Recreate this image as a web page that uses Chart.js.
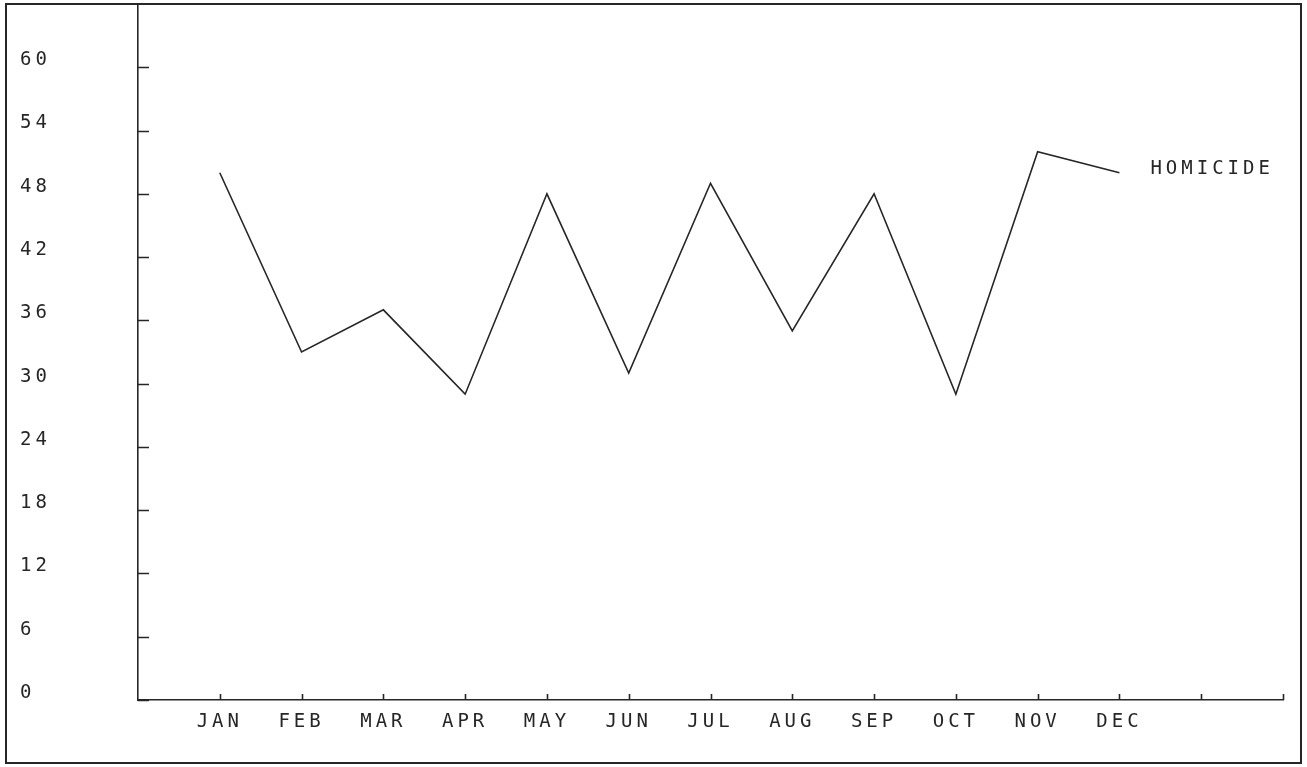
<!DOCTYPE html>
<html>
<head>
<meta charset="utf-8">
<title>Homicide by month</title>
<script src="https://cdn.jsdelivr.net/npm/chart.js@4.4.1/dist/chart.umd.min.js"></script>
<style>
    html, body {
        margin: 0;
        padding: 0;
        background: #ffffff;
    }

    #chartBox {
        position: relative;
        width: 1307px;
        height: 767px;
    }
</style>
</head>
<body>
<div id="chartBox">
    <canvas id="homicideChart"></canvas>
</div>
<script>
"use strict";

const monthLabels = [
    "JAN", "FEB", "MAR", "APR", "MAY", "JUN",
    "JUL", "AUG", "SEP", "OCT", "NOV", "DEC"
];

const homicideCounts = [
    50, 33, 37, 29, 48, 31,
    49, 35, 48, 29, 52, 50
];

const yTickValues = [
    0, 6, 12, 18, 24, 30, 36, 42, 48, 54, 60
];

const seriesName = "HOMICIDE";

const INK = "#262626";
const PLOT_FONT = "'DejaVu Sans Mono', monospace";
const FONT_SIZE = 19;

const plotterMarks = {

    id: "plotterMarks",

    beforeDraw(chart) {

        const ctx = chart.ctx;

        // plotter lettering is spaced wide
        ctx.letterSpacing = "4px";

        ctx.save();
        ctx.strokeStyle = INK;
        ctx.lineWidth = 2;
        ctx.strokeRect(6, 4, 1295, 759);
        ctx.restore();
    },

    afterDraw(chart) {

        const ctx = chart.ctx;
        const xScale = chart.scales.x;
        const yScale = chart.scales.y;
        const area = chart.chartArea;

        ctx.save();
        ctx.strokeStyle = INK;
        ctx.lineWidth = 1.6;
        ctx.beginPath();

        // y ticks point into the plot
        yTickValues.forEach(value => {

            const py = Math.round(yScale.getPixelForValue(value)) + 0.5;

            ctx.moveTo(area.left, py);
            ctx.lineTo(area.left + 11, py);
        });

        // x ticks point up from the axis
        for (let i = 1; i <= xScale.max; i++) {

            const px = Math.round(xScale.getPixelForValue(i)) + 0.5;

            ctx.moveTo(px, area.bottom);
            ctx.lineTo(px, area.bottom - 6);
        }

        ctx.stroke();

        // series name next to the last point
        const meta = chart.getDatasetMeta(0);
        const last = meta.data[meta.data.length - 1];

        ctx.fillStyle = INK;
        ctx.font = FONT_SIZE + "px " + PLOT_FONT;
        ctx.textAlign = "left";
        ctx.textBaseline = "middle";
        ctx.fillText(seriesName, last.x + 31, last.y - 4);
        ctx.restore();
    }
};

const ChartController = {

    initialize() {

        if (typeof Chart === "undefined") {

            console.error("Chart.js not loaded.");

            return;
        }

        Chart.defaults.font.family = PLOT_FONT;
        Chart.defaults.color = INK;

        this.renderChart();
    },

    renderChart() {

        const canvas = document.getElementById("homicideChart");

        const points = homicideCounts.map(
            (value, index) => ({ x: index + 1, y: value })
        );

        new Chart(canvas, {

            type: "line",

            data: {

                datasets: [
                    {
                        label: seriesName,
                        data: points,
                        borderColor: INK,
                        borderWidth: 1.6,
                        pointRadius: 0,
                        tension: 0,
                        fill: false
                    }
                ]
            },

            options: {

                responsive: true,
                maintainAspectRatio: false,
                animation: false,

                layout: {
                    padding: {
                        left: 20,
                        right: 24,
                        top: 4,
                        bottom: 0
                    }
                },

                plugins: {
                    legend: { display: false },
                    tooltip: { enabled: false }
                },

                scales: {

                    x: {
                        type: "linear",
                        min: 0,
                        max: 14,
                        afterFit(scale) {
                            scale.height = 67;
                            scale.paddingLeft = 0;
                            scale.paddingRight = 0;
                        },
                        afterBuildTicks(scale) {
                            scale.ticks = [];
                            for (let i = 0; i <= 14; i++) {
                                scale.ticks.push({ value: i });
                            }
                        },
                        grid: {
                            display: true,
                            drawOnChartArea: false,
                            drawTicks: false
                        },
                        border: {
                            display: true,
                            color: INK,
                            width: 1.6
                        },
                        ticks: {
                            autoSkip: false,
                            maxRotation: 0,
                            padding: 11,
                            color: INK,
                            font: { size: FONT_SIZE },
                            callback(value) {
                                return monthLabels[value - 1] || "";
                            }
                        }
                    },

                    y: {
                        min: 0,
                        max: 66,
                        afterFit(scale) {
                            scale.width = 118;
                            scale.paddingTop = 0;
                            scale.paddingBottom = 0;
                        },
                        afterBuildTicks(scale) {
                            scale.ticks = yTickValues.map(
                                value => ({ value })
                            );
                        },
                        grid: {
                            display: true,
                            drawOnChartArea: false,
                            drawTicks: false
                        },
                        border: {
                            display: true,
                            color: INK,
                            width: 1.6
                        },
                        ticks: {
                            crossAlign: "far",
                            labelOffset: -7,
                            color: INK,
                            font: { size: FONT_SIZE }
                        }
                    }
                }
            },

            plugins: [plotterMarks]
        });
    }
};

document.addEventListener("DOMContentLoaded", () => {

    try {

        ChartController.initialize();

    } catch (error) {

        console.error("Chart initialization failed", error);
    }
});
</script>
</body>
</html>
